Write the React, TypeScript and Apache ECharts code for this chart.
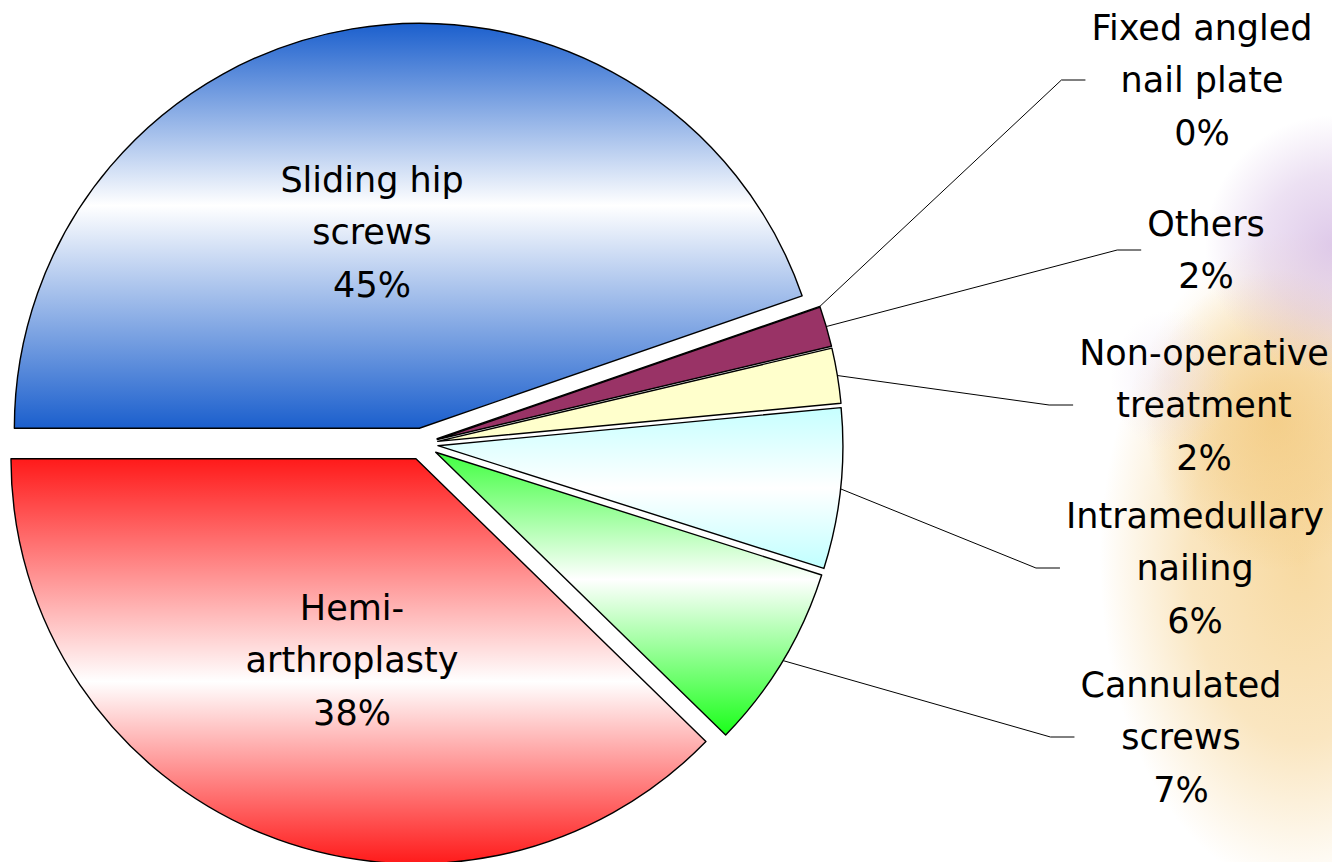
import React, { useEffect, useRef } from "react";
import * as echarts from "echarts";

// ---- data ----
const categories = [
  "Sliding hip\nscrews",
  "Fixed angled\nnail plate",
  "Others",
  "Non-operative\ntreatment",
  "Intramedullary\nnailing",
  "Cannulated\nscrews",
  "Hemi-\narthroplasty",
];
const shares = [44.7, 0, 1.6, 2.2, 6.4, 7.4, 37.7];
const insideLabels = [true, false, false, false, false, false, true];

// ---- layout (label block centres) ----
const labelCenters: [number, number][] = [
  [372, 232],
  [1202, 80],
  [1206, 250],
  [1204, 405],
  [1195, 568],
  [1181, 737],
  [352, 660],
];

const vgrad = (stops: [number, string][]) =>
  new echarts.graphic.LinearGradient(
    0,
    0,
    0,
    1,
    stops.map(([offset, color]) => ({ offset, color }))
  );

const fills: any[] = [
  vgrad([
    [0, "#1b5fcd"],
    [0.45, "#ffffff"],
    [1, "#1b5fcd"],
  ]),
  "#ffffff",
  "#993366",
  "#ffffcc",
  vgrad([
    [0, "#c6ffff"],
    [0.5, "#ffffff"],
    [1, "#c0ffff"],
  ]),
  vgrad([
    [0, "#40ff40"],
    [0.45, "#ffffff"],
    [1, "#1aff1a"],
  ]),
  vgrad([
    [0, "#ff1a1a"],
    [0.55, "#ffffff"],
    [1, "#ff1a1a"],
  ]),
];

const blob = (
  cx: number,
  cy: number,
  rx: number,
  ry: number,
  rgb: string,
  a0: number,
  a1: number
) => ({
  type: "ellipse",
  z: -10,
  silent: true,
  shape: { cx, cy, rx, ry },
  style: {
    fill: new echarts.graphic.RadialGradient(0.5, 0.5, 0.5, [
      { offset: 0, color: `rgba(${rgb},${a0})` },
      { offset: 0.55, color: `rgba(${rgb},${a1})` },
      { offset: 1, color: `rgba(${rgb},0)` },
    ]),
  },
});

export default function App() {
  const ref = useRef<HTMLDivElement>(null);

  useEffect(() => {
    if (!ref.current) return;
    const chart = echarts.init(ref.current, null, { renderer: "svg" });
    const font = {
      color: "#000",
      fontFamily: "DejaVu Sans",
      fontSize: 35,
      lineHeight: 52.5,
      align: "center" as const,
    };
    const center = [422, 444];
    chart.setOption({
      animation: false,
      backgroundColor: "#ffffff",
      graphic: {
        elements: [
          blob(1300, 560, 200, 330, "245,205,130", 0.75, 0.5),
          blob(1275, 420, 130, 150, "240,190,100", 0.55, 0.3),
          blob(1335, 245, 130, 130, "214,188,228", 0.8, 0.45),
          blob(1170, 380, 60, 70, "226,208,236", 0.3, 0.15),
        ],
      },
      series: [
        // slices (exploded)
        {
          type: "pie",
          center,
          radius: 405,
          startAngle: 180,
          clockwise: true,
          selectedMode: "multiple",
          selectedOffset: 16,
          avoidLabelOverlap: false,
          emphasis: { disabled: true },
          silent: true,
          itemStyle: { borderColor: "#000", borderWidth: 1.4 },
          label: { show: false },
          labelLine: { show: false },
          data: categories.map((name, i) => ({
            name,
            value: shares[i],
            selected: true,
            itemStyle: { color: fills[i] },
          })),
        },
        // labels and leader lines (transparent ring at the exploded radius)
        {
          type: "pie",
          center,
          radius: 421,
          startAngle: 180,
          clockwise: true,
          avoidLabelOverlap: false,
          percentPrecision: 0,
          minShowLabelAngle: 0,
          emphasis: { disabled: true },
          silent: true,
          z: 3,
          itemStyle: { color: "rgba(0,0,0,0)", borderWidth: 0 },
          label: {
            show: true,
            position: "outside",
            formatter: "{b}\n{d}%",
            ...font,
          },
          labelLine: {
            show: true,
            length: 20,
            length2: 20,
            lineStyle: { color: "#000", width: 1 },
          },
          labelLayout: (p: any) => {
            const c = labelCenters[p.dataIndex];
            const out: any = {
              x: c[0],
              y: c[1],
              align: "center",
              verticalAlign: "middle",
            };
            if (!insideLabels[p.dataIndex] && p.labelLinePoints) {
              const left = c[0] - p.labelRect.width / 2 - 6;
              out.labelLinePoints = [
                p.labelLinePoints[0],
                [left - 24, c[1]],
                [left, c[1]],
              ];
            }
            return out;
          },
          data: categories.map((name, i) => ({
            name,
            value: shares[i],
            label: insideLabels[i] ? { position: "inside" } : undefined,
            labelLine: insideLabels[i] ? { show: false } : undefined,
          })),
        },
      ],
    });
    return () => chart.dispose();
  }, []);

  return (
    <div
      ref={ref}
      style={{
        position: "absolute",
        left: 0,
        top: 0,
        width: 1332,
        height: 862,
      }}
    />
  );
}
